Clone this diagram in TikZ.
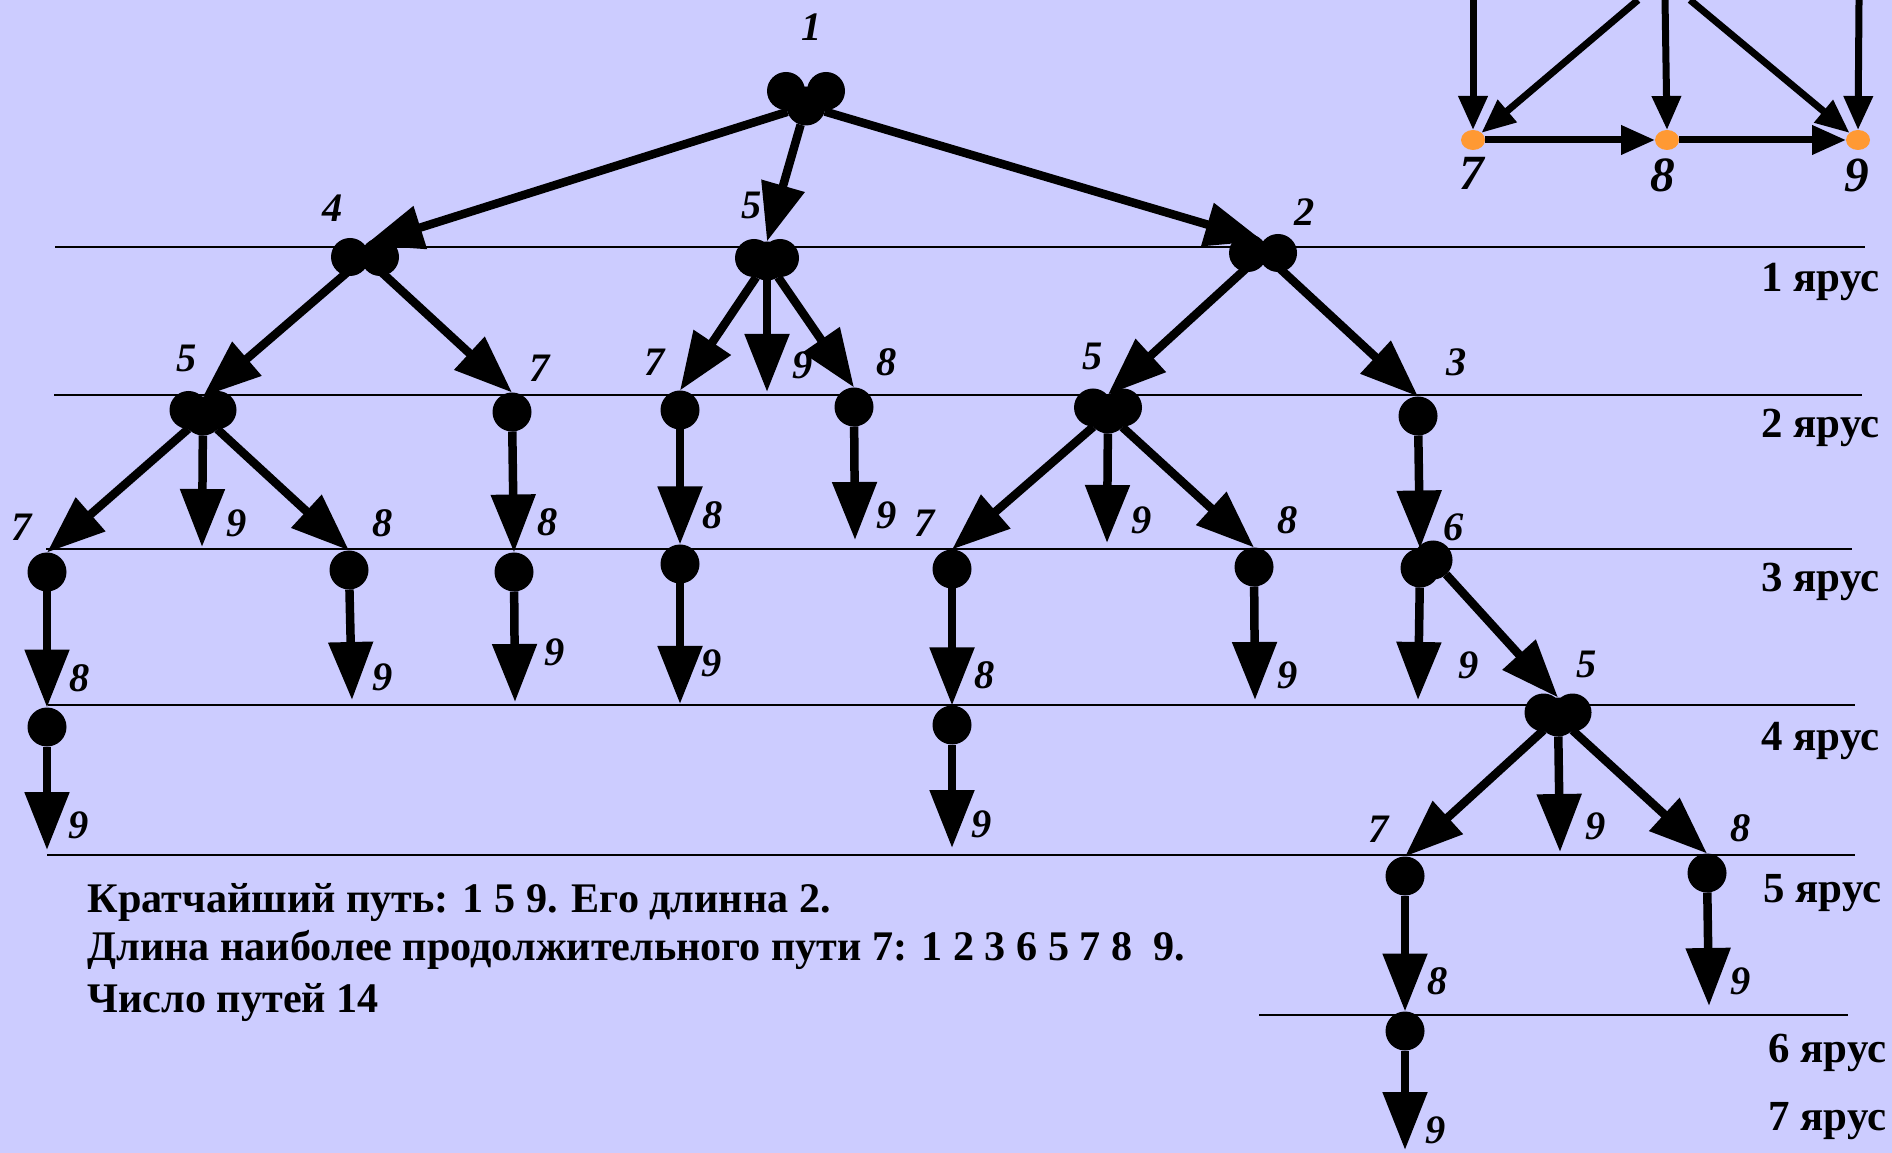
\documentclass[tikz,border=0pt]{standalone}
\usepackage{fontspec}
\setmainfont{Liberation Serif}
\usetikzlibrary{arrows.meta,shapes.geometric}
\definecolor{lilac}{RGB}{204,204,255}
\definecolor{peach}{RGB}{255,153,51}

% two touching discs / a heart of three discs round a node
\newcommand\twin[1]{\fill ([xshift=-1.5mm]#1) circle (1.9mm) ([xshift=1.5mm]#1) circle (1.9mm);}
\newcommand\heart[3]{\fill ([shift={(-#2,#3)}]#1) circle (1.9mm) ([shift={(#2,#3)}]#1) circle (1.9mm);}

\begin{document}
\begin{tikzpicture}[scale=1,
  dot/.style={circle,fill=black,minimum size=3.9mm,inner sep=0pt,outer sep=0pt},
  pairdot/.style={circle,minimum size=2.4mm,inner sep=0pt,outer sep=0pt},
  odot/.style={ellipse,fill=peach,minimum width=2.4mm,minimum height=2mm,inner sep=0pt,outer sep=0pt},
  link/.style={line width=0.85mm,-{Triangle[length=5.8mm,width=4.3mm]}},
  ilink/.style={line width=0.7mm,-{Triangle[length=3.4mm,width=2.8mm]}},
  num/.style={font=\fontsize{11.5}{12}\selectfont\bfseries\itshape},
  bignum/.style={font=\fontsize{14}{15}\selectfont\bfseries\itshape},
  tier/.style={anchor=base east,inner sep=0pt,font=\fontsize{12.2}{13}\selectfont\bfseries},
  note/.style={anchor=base west,inner sep=0pt,font=\fontsize{12}{13}\selectfont\bfseries},
  tierline/.style={line width=0.4pt}]

\path[use as bounding box,fill=lilac] (0,0) rectangle (18.92,-11.53);

% tiers
\draw [tierline] (0.55,-2.47)--(18.65,-2.47);
\draw [tierline] (0.54,-3.95)--(18.62,-3.95);
\draw [tierline] (0.46,-5.49)--(18.52,-5.49);
\draw [tierline] (0.48,-7.05)--(18.55,-7.05);
\draw [tierline] (0.47,-8.55)--(18.55,-8.55);
\draw [tierline] (12.59,-10.15)--(18.48,-10.15);

\node [tier] (y1) at (18.80,-2.92) {1 ярус};
\node [tier] (y2) at (18.80,-4.38) {2 ярус};
\node [tier] (y3) at (18.80,-5.92) {3 ярус};
\node [tier] (y4) at (18.80,-7.50) {4 ярус};
\node [tier] (y5) at (18.82,-9.02) {5 ярус};
\node [tier] (y6) at (18.87,-10.62) {6 ярус};
\node [tier] (y7) at (18.87,-11.30) {7 ярус};

% vertices
\node [dot] (n1) at (8.06,-1.06) {};
\node [pairdot] (n4) at (3.65,-2.57) {};
\node [dot] (n5a) at (7.67,-2.61) {};
\node [pairdot] (n2) at (12.63,-2.53) {};
\node [dot] (n5b) at (2.03,-4.16) {};
\node [dot] (n7a) at (5.12,-4.12) {};
\node [dot] (n7b) at (6.80,-4.10) {};
\node [dot] (n8a) at (8.54,-4.07) {};
\node [dot] (n5c) at (11.08,-4.14) {};
\node [dot] (n3) at (14.18,-4.16) {};
\node [dot] (n7c) at (0.47,-5.72) {};
\node [dot] (n8b) at (3.49,-5.70) {};
\node [dot] (n8c) at (5.14,-5.72) {};
\node [dot] (n8d) at (6.80,-5.64) {};
\node [dot] (n7d) at (9.52,-5.69) {};
\node [dot] (n8e) at (12.54,-5.67) {};
\node [dot] (n6) at (14.20,-5.68) {};
\node [dot] (n6b) at (14.33,-5.60) {};
\node [dot] (n8f) at (0.47,-7.27) {};
\node [dot] (n8g) at (9.52,-7.25) {};
\node [dot] (n5d) at (15.58,-7.17) {};
\node [dot] (n7e) at (14.05,-8.76) {};
\node [dot] (n8h) at (17.07,-8.73) {};
\node [dot] (n8i) at (14.05,-10.31) {};

\heart{n1}{0.2}{0.15}
\twin{n4}
\heart{n5a}{0.13}{0.03}
\twin{n2}
\heart{n5b}{0.145}{0.06}
\heart{n5c}{0.15}{0.065}
\heart{n5d}{0.145}{0.045}

% free ends of the arrows into 9
\coordinate (c9a) at (7.67,-3.92);
\coordinate (c9b) at (2.02,-5.47);
\coordinate (c9c) at (8.55,-5.40);
\coordinate (c9d) at (11.07,-5.43);
\coordinate (c9e) at (3.52,-7.00);
\coordinate (c9f) at (5.15,-7.02);
\coordinate (c9g) at (6.80,-7.04);
\coordinate (c9h) at (12.55,-7.00);
\coordinate (c9i) at (14.18,-7.00);
\coordinate (c9j) at (0.47,-8.50);
\coordinate (c9k) at (9.52,-8.48);
\coordinate (c9l) at (15.60,-8.52);
\coordinate (c9m) at (17.09,-10.06);
\coordinate (c9n) at (14.05,-11.50);

\draw [link] (n1)--(n4.north);
\draw [link] (n1)--(n5a.north);
\draw [link] (n1)--(n2.north);
\draw [link] (n4)--(n5b.north);
\draw [link] (n4)--(n7a.north);
\draw [link] (n5a)--(n7b.north);
\draw [link] (n5a)--(c9a);
\draw [link] (n5a)--(n8a.north);
\draw [link] (n2)--(n5c.north);
\draw [link] (n2)--(n3.north);
\draw [link] (n5b)--(n7c.north);
\draw [link] (n5b)--(c9b);
\draw [link] (n5b)--(n8b.north);
\draw [link] (n7a)--(n8c.north);
\draw [link] (n7b)--(n8d.north);
\draw [link] (n8a)--(c9c);
\draw [link] (n5c)--(n7d.north);
\draw [link] (n5c)--(c9d);
\draw [link] (n5c)--(n8e.north);
\draw [link] (n3)--(n6.north);
\draw [link] (n7c)--(n8f.north);
\draw [link] (n8b)--(c9e);
\draw [link] (n8c)--(c9f);
\draw [link] (n8d)--(c9g);
\draw [link] (n7d)--(n8g.north);
\draw [link] (n8e)--(c9h);
\draw [link] (n6)--(c9i);
\draw [link] (n6b)--(n5d.north);
\draw [link] (n8f)--(c9j);
\draw [link] (n8g)--(c9k);
\draw [link] (n5d)--(n7e.north);
\draw [link] (n5d)--(c9l);
\draw [link] (n5d)--(n8h.north);
\draw [link] (n7e)--(n8i.north);
\draw [link] (n8h)--(c9m);
\draw [link] (n8i)--(c9n);

% vertex numbers
\node [num] (t1) at (8.12,-0.27) {1};
\node [num] (t2) at (3.33,-2.08) {4};
\node [num] (t3) at (7.52,-2.05) {5};
\node [num] (t4) at (13.05,-2.12) {2};
\node [num] (t5) at (1.87,-3.58) {5};
\node [num] (t6) at (5.40,-3.68) {7};
\node [num] (t7) at (6.55,-3.62) {7};
\node [num] (t8) at (8.03,-3.65) {9};
\node [num] (t9) at (8.87,-3.62) {8};
\node [num] (t10) at (10.93,-3.56) {5};
\node [num] (t11) at (14.57,-3.62) {3};
\node [num] (t12) at (0.22,-5.27) {7};
\node [num] (t13) at (2.37,-5.23) {9};
\node [num] (t14) at (3.83,-5.23) {8};
\node [num] (t15) at (5.48,-5.22) {8};
\node [num] (t16) at (7.13,-5.15) {8};
\node [num] (t17) at (8.87,-5.15) {9};
\node [num] (t18) at (9.25,-5.23) {7};
\node [num] (t19) at (11.42,-5.20) {9};
\node [num] (t20) at (12.88,-5.20) {8};
\node [num] (t21) at (14.54,-5.27) {6};
\node [num] (t22) at (0.80,-6.78) {8};
\node [num] (t23) at (3.83,-6.77) {9};
\node [num] (t24) at (5.55,-6.52) {9};
\node [num] (t25) at (7.12,-6.63) {9};
\node [num] (t26) at (9.85,-6.75) {8};
\node [num] (t27) at (12.88,-6.75) {9};
\node [num] (t28) at (14.69,-6.65) {9};
\node [num] (t29) at (15.87,-6.64) {5};
\node [num] (t30) at (0.79,-8.25) {9};
\node [num] (t31) at (9.82,-8.24) {9};
\node [num] (t32) at (13.79,-8.29) {7};
\node [num] (t33) at (15.96,-8.26) {9};
\node [num] (t34) at (17.41,-8.28) {8};
\node [num] (t35) at (14.38,-9.81) {8};
\node [num] (t36) at (17.41,-9.81) {9};
\node [num] (t37) at (14.36,-11.30) {9};

% corner of the graph
\coordinate (u1) at (14.73,0);
\coordinate (u2) at (16.38,0);
\coordinate (u3) at (16.65,0);
\coordinate (u4) at (16.90,0);
\coordinate (u5) at (18.59,0);
\node [odot] (i7) at (14.73,-1.40) {};
\node [odot] (i8) at (16.67,-1.40) {};
\node [odot] (i9) at (18.58,-1.40) {};
\draw [ilink] (u1)--(i7.north);
\draw [ilink] (u2)--(i7);
\draw [ilink] (u3)--(i8.north);
\draw [ilink] (u4)--(i9);
\draw [ilink] (u5)--(i9.north);
\draw [ilink] (i7)--(i8);
\draw [ilink] (i8)--(i9);
\node [bignum] (r7) at (14.72,-1.73) {7};
\node [bignum] (r8) at (16.63,-1.75) {8};
\node [bignum] (r9) at (18.57,-1.75) {9};

\node [note] (s1) at (0.87,-9.12) {Кратчайший путь: 1 5 9. Его длинна 2.};
\node [note] (s2) at (0.87,-9.60) {Длина наиболее продолжительного пути 7: 1 2 3 6 5 7 8~~9.};
\node [note] (s3) at (0.87,-10.12) {Число путей 14};
\end{tikzpicture}
\end{document}
